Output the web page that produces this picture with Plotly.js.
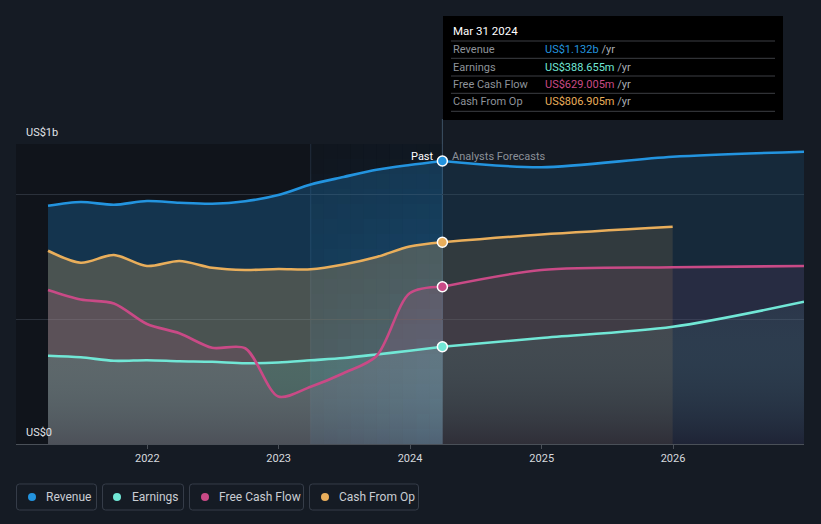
<!DOCTYPE html>
<html><head><meta charset="utf-8">
<script src="https://cdn.plot.ly/plotly-3.0.1.min.js"></script>
<style>html,body{margin:0;padding:0;background:#151b24;}#chart{width:821px;height:524px;}</style>
</head><body><div id="chart"></div>
<script>
// ---- data (US$ billions) ----
const pastDates = ['2021-03-31','2021-06-30','2021-09-30','2021-12-31','2022-03-31','2022-06-30','2022-09-30','2022-12-31','2023-03-31','2023-06-30','2023-09-30','2023-12-31','2024-03-31'];
const revenuePast  = [0.953,0.968,0.957,0.972,0.965,0.961,0.971,0.996,1.038,1.068,1.097,1.116,1.132];
const earningsPast = [0.353,0.347,0.333,0.335,0.331,0.329,0.323,0.326,0.335,0.344,0.358,0.373,0.389];
const fcfPast      = [0.616,0.578,0.562,0.480,0.443,0.385,0.383,0.190,0.229,0.283,0.352,0.603,0.629];
const cfoPast      = [0.773,0.725,0.756,0.712,0.732,0.705,0.696,0.700,0.699,0.718,0.748,0.790,0.807];

const fcDates      = ['2024-03-31','2024-12-31','2025-12-31','2026-12-31'];
const revenueFc    = [1.132,1.107,1.149,1.169];
const earningsFc   = [0.389,0.424,0.469,0.569];
const fcfFc        = [0.629,0.696,0.707,0.712];
const cfoFcDates   = ['2024-03-31','2024-12-31','2025-12-31'];
const cfoFc        = [0.807,0.838,0.869];

const seriesNames  = ['Revenue','Earnings','Free Cash Flow','Cash From Op'];
const tooltipDate  = 'Mar 31 2024';
const tooltipVals  = ['US$1.132b','US$388.655m','US$629.005m','US$806.905m'];
const xTickVals    = ['2022-01-01','2023-01-01','2024-01-01','2025-01-01','2026-01-01'];
const xTickText    = ['2022','2023','2024','2025','2026'];

// ---- styling ----
const C = {rev:'#2394df', earn:'#71e7d6', fcf:'#c94a86', cfo:'#e9ae5b'};
const xRange = ['2021-01-01','2026-12-31'];
const splitDate = '2024-03-31', bandStart = '2023-03-31';
const FONT = 'Roboto, "Open Sans", sans-serif';

// pixel -> paper helpers (plot area: x 16..804, y 144..444)
const PX = x => (x - 16) / 788;
const PY = y => (444 - y) / 300;
const dateFrac = d => (Date.parse(d) - Date.parse(xRange[0])) / (Date.parse(xRange[1]) - Date.parse(xRange[0]));

const SM = 0.85;
function fillTr(x, y, col, grad) {
  const t = {x, y, type:'scatter', mode:'lines', line:{width:0, shape:'spline', smoothing:SM, color:col},
          fill:'tozeroy', fillcolor:col, hoverinfo:'skip', showlegend:false};
  if (grad) t.fillgradient = {type:'vertical', start:0, stop:Math.max(...y), colorscale:grad};
  return t;
}
function lineTr(x, y, col) {
  return {x, y, type:'scatter', mode:'lines', line:{width:2.6, shape:'spline', smoothing:SM, color:col},
          hoverinfo:'skip', showlegend:false};
}

const data = [
  fillTr(pastDates, revenuePast, 'rgba(35,148,223,0.26)'),
  fillTr(fcDates, revenueFc, 'rgba(35,148,223,0.12)'),
  fillTr(pastDates, cfoPast, 'rgba(233,174,91,0.26)'),
  fillTr(cfoFcDates, cfoFc, 'rgba(233,174,91,0.13)'),
  fillTr(pastDates, fcfPast, 'rgba(201,74,134,0.14)'),
  fillTr(fcDates, fcfFc, 'rgba(201,74,134,0.10)'),
  fillTr(pastDates, earningsPast, 'rgba(113,231,214,0.12)', [[0,'rgba(50,80,90,0.35)'],[1,'rgba(113,231,214,0.14)']]),
  fillTr(fcDates, earningsFc, 'rgba(113,231,214,0.05)', [[0,'rgba(12,18,28,0.32)'],[1,'rgba(113,231,214,0.05)']]),
  lineTr(pastDates, earningsPast, C.earn), lineTr(fcDates, earningsFc, C.earn),
  lineTr(pastDates, fcfPast, C.fcf), lineTr(fcDates, fcfFc, C.fcf),
  lineTr(pastDates, cfoPast, C.cfo), lineTr(cfoFcDates, cfoFc, C.cfo),
  lineTr(pastDates, revenuePast, C.rev), lineTr(fcDates, revenueFc, C.rev),
  {x:[splitDate,splitDate,splitDate,splitDate],
   y:[revenuePast[12], earningsPast[12], fcfPast[12], cfoPast[12]],
   type:'scatter', mode:'markers', hoverinfo:'skip', showlegend:false,
   marker:{size:10, color:[C.rev,C.earn,C.fcf,C.cfo], line:{color:'#ffffff', width:1.5}}}
];

function rrPath(x0,y0,x1,y1,r){
  const p=(x,y)=>PX(x).toFixed(5)+','+PY(y).toFixed(5);
  return 'M'+p(x0+r,y0)+' L'+p(x1-r,y0)+' Q'+p(x1,y0)+' '+p(x1,y0+r)+' L'+p(x1,y1-r)+' Q'+p(x1,y1)+' '+p(x1-r,y1)+
         ' L'+p(x0+r,y1)+' Q'+p(x0,y1)+' '+p(x0,y1-r)+' L'+p(x0,y0+r)+' Q'+p(x0,y0)+' '+p(x0+r,y0)+' Z';
}

const splitX = dateFrac(splitDate), bandX = dateFrac(bandStart);
const shapes = [
  {type:'rect', xref:'paper', yref:'paper', x0:0, x1:splitX, y0:0, y1:1, fillcolor:'#10141b', line:{width:0}, layer:'below'}
];
// highlighted "last year" band: blue tint, stronger to the right and toward the bottom
const NC = 10, NR = 20;
for (let c = 0; c < NC; c++) {
  for (let r = 0; r < NR; r++) {
    const s = (c + 0.5) / NC, t = (r + 0.5) / NR;
    const a = (0.04 + 0.46 * Math.pow(t, 1.4)) * (0.45 + 0.55 * s);
    shapes.push({type:'rect', xref:'paper', yref:'paper',
      x0: bandX + (splitX - bandX) * c / NC, x1: bandX + (splitX - bandX) * (c + 1) / NC,
      y0: 1 - (r + 1) / NR, y1: 1 - r / NR,
      fillcolor:'rgba(35,140,215,' + a.toFixed(3) + ')', line:{width:0}, layer:'below'});
  }
}
shapes.push({type:'line', xref:'paper', yref:'paper', x0:splitX, x1:splitX, y0:0, y1:PY(119), line:{color:'rgba(95,125,155,0.55)', width:1}, layer:'below'});
shapes.push({type:'line', xref:'paper', yref:'paper', x0:bandX, x1:bandX, y0:0, y1:1, line:{color:'rgba(70,95,120,0.35)', width:1}, layer:'below'});
// tooltip
shapes.push({type:'rect', xref:'paper', yref:'paper', x0:PX(443), x1:PX(783), y0:PY(120), y1:PY(16), fillcolor:'#000000', line:{width:0}, layer:'above'});
[41,58.3,76,93.3,111.3].forEach(y => shapes.push({type:'line', xref:'paper', yref:'paper', x0:PX(451), x1:PX(775), y0:PY(y), y1:PY(y), line:{color:'#3c3f44', width:1}, layer:'above'}));

// legend boxes
const legBoxes = [[16,97],[102,184],[189,304],[309,419]];
const legDots = [32,117,205,325];
const legText = [44,130,217,337];
const legCols = [C.rev,C.earn,C.fcf,C.cfo];
legBoxes.forEach(b => shapes.push({type:'path', xref:'paper', yref:'paper', path:rrPath(b[0]+0.5,484,b[1]-0.5,510,3), line:{color:'#363d49', width:1}, fillcolor:'rgba(0,0,0,0)', layer:'above'}));
legDots.forEach((cx,i) => shapes.push({type:'circle', xref:'paper', yref:'paper', x0:PX(cx-4), x1:PX(cx+4), y0:PY(501), y1:PY(493), fillcolor:legCols[i], line:{width:0}, layer:'above'}));

const annotations = [
  {text:'US$1b', xref:'paper', yref:'paper', x:PX(24), y:PY(132), xanchor:'left', yanchor:'middle', showarrow:false, font:{size:11, color:'#e0e3e8', family:FONT}},
  {text:'US$0', xref:'paper', yref:'paper', x:PX(24), y:PY(432), xanchor:'left', yanchor:'middle', showarrow:false, font:{size:11, color:'#e0e3e8', family:FONT}},
  {text:'Past', xref:'paper', yref:'paper', x:splitX, xshift:-6, y:PY(156), xanchor:'right', yanchor:'middle', showarrow:false, font:{size:11, color:'#ffffff', family:FONT}},
  {text:'Analysts Forecasts', xref:'paper', yref:'paper', x:splitX, xshift:8, y:PY(156), xanchor:'left', yanchor:'middle', showarrow:false, font:{size:11, color:'#8b9098', family:FONT}},
  {text:tooltipDate, xref:'paper', yref:'paper', x:PX(451), y:PY(31), xanchor:'left', yanchor:'middle', showarrow:false, font:{size:11.5, color:'#ffffff', family:FONT}}
];
const rowY = [49.5,67,84.5,101.5];
seriesNames.forEach((n,i) => {
  annotations.push({text:n, xref:'paper', yref:'paper', x:PX(451), y:PY(rowY[i]), xanchor:'left', yanchor:'middle', showarrow:false, font:{size:11, color:'#8e939a', family:FONT}});
  annotations.push({text:'<span style="color:'+legCols[i]+'">'+tooltipVals[i]+'</span><span style="color:#a9adb3"> /yr</span>', xref:'paper', yref:'paper', x:PX(543), y:PY(rowY[i]), xanchor:'left', yanchor:'middle', showarrow:false, font:{size:11, family:FONT}});
  annotations.push({text:n, xref:'paper', yref:'paper', x:PX(legText[i]), y:PY(497), xanchor:'left', yanchor:'middle', showarrow:false, font:{size:12, color:'#c9cdd3', family:FONT}});
});

const layout = {
  width:821, height:524,
  margin:{l:16, r:17, t:144, b:80, pad:0},
  paper_bgcolor:'#151b24', plot_bgcolor:'#151b24',
  font:{family:FONT, color:'#d0d4da'},
  showlegend:false,
  xaxis:{type:'date', range:xRange, tickvals:xTickVals, ticktext:xTickText, ticks:'outside', ticklen:4, tickcolor:'#4a5058',
         showline:true, linecolor:'#4a5058', linewidth:1, showgrid:false, zeroline:false, tickfont:{size:11, color:'#d6d9de', family:FONT}, fixedrange:true},
  yaxis:{range:[0,1.2], tickvals:[0.5,1.0,1.2], showticklabels:false, showgrid:true, gridcolor:'#2b313b', gridwidth:1, zeroline:false, showline:false, fixedrange:true},
  shapes, annotations
};
Plotly.newPlot('chart', data, layout, {displayModeBar:false, staticPlot:true});
</script></body></html>
